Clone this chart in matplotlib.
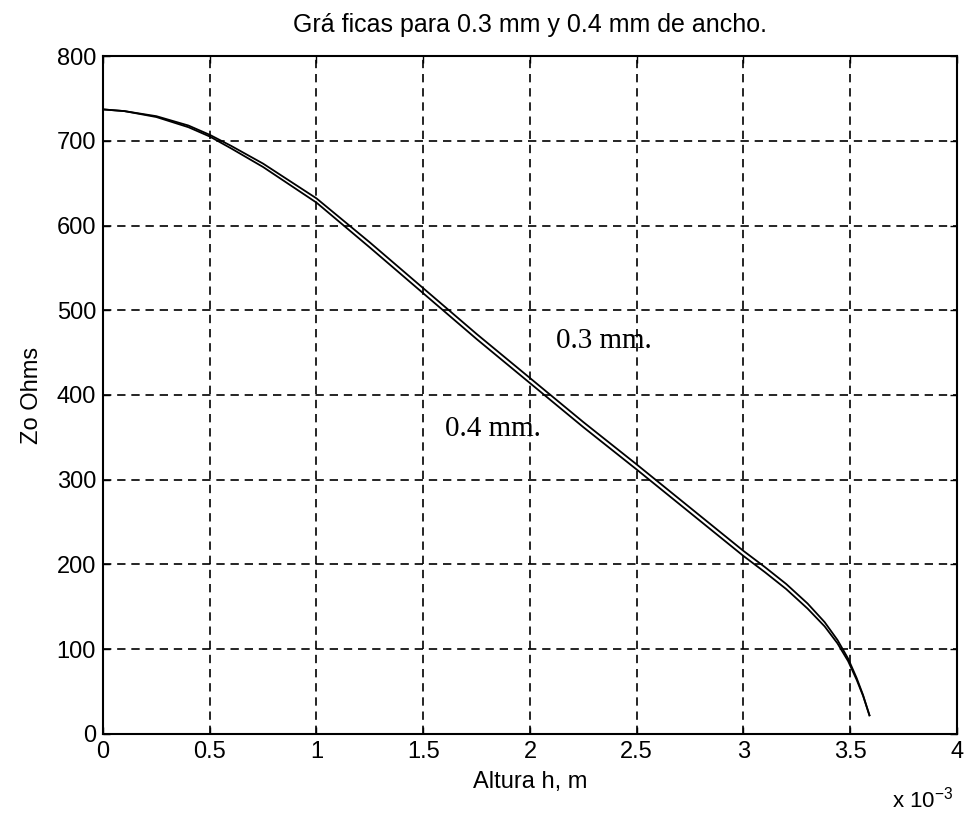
#!/usr/bin/env python

import numpy as np
import matplotlib.pyplot as plt
from matplotlib.ticker import FuncFormatter

# altura h en mm (se grafica en m)
h_mm = [0.0, 0.1, 0.25, 0.4, 0.5, 0.6, 0.75, 1.0, 1.25, 1.5, 1.75, 2.0,
        2.25, 2.5, 2.75, 3.0, 3.1, 3.2, 3.3, 3.38, 3.44, 3.49, 3.53, 3.56, 3.59]
# Zo para ancho 0.3 mm
zo_03 = [737, 735, 729, 718, 707, 694, 673, 632, 580, 526, 472, 420,
         368, 318, 267, 216, 197, 177, 154, 132, 111, 89, 66, 46, 22]
# Zo para ancho 0.4 mm
zo_04 = [737, 735, 728, 716, 705, 691, 669, 627, 574, 520, 466, 414,
         362, 312, 261, 210, 191, 171, 148, 127, 107, 86, 64, 45, 22]

x_ticks = [0, 0.5, 1, 1.5, 2, 2.5, 3, 3.5, 4]
y_ticks = [0, 100, 200, 300, 400, 500, 600, 700, 800]

plt.rcParams['font.family'] = ['Liberation Sans', 'DejaVu Sans']
plt.rcParams['mathtext.fontset'] = 'custom'
plt.rcParams['mathtext.rm'] = 'Liberation Sans'

fig = plt.figure(figsize=(9.69, 8.13), dpi=100)
ax = fig.add_axes([0.1063, 0.0972, 0.8813, 0.8339])

x = np.array(h_mm) * 1e-3
ax.plot(x, zo_03, color='black', lw=1.3)
ax.plot(x, zo_04, color='black', lw=1.3)

ax.set_xlim(0, 4e-3)
ax.set_ylim(0, 800)
ax.set_xticks(np.array(x_ticks) * 1e-3)
ax.set_yticks(y_ticks)
ax.xaxis.set_major_formatter(FuncFormatter(lambda v, p: f'{v * 1e3:g}'))
ax.tick_params(direction='in', length=5, width=1, top=True, right=True,
               labelsize=17, pad=5, colors='black')
ax.grid(True, color='black', linestyle=(0, (5, 3.5)), lw=1.2)
for s in ax.spines.values():
    s.set_linewidth(1.5)

ax.set_title('Grá ficas para 0.3 mm y 0.4 mm de ancho.', fontsize=18, pad=17)
ax.set_xlabel('Altura h, m', fontsize=17, labelpad=6)
ax.set_ylabel('Zo Ohms', fontsize=17, labelpad=10)

ax.text(2.12e-3, 455, '0.3 mm.', family='Liberation Serif', fontsize=21)
ax.text(1.6e-3, 352, '0.4 mm.', family='Liberation Serif', fontsize=21)

fig.text(0.921, 0.007, r'x 10$^{\mathregular{-3}}$', fontsize=16)

plt.savefig('out.png', dpi=100)
